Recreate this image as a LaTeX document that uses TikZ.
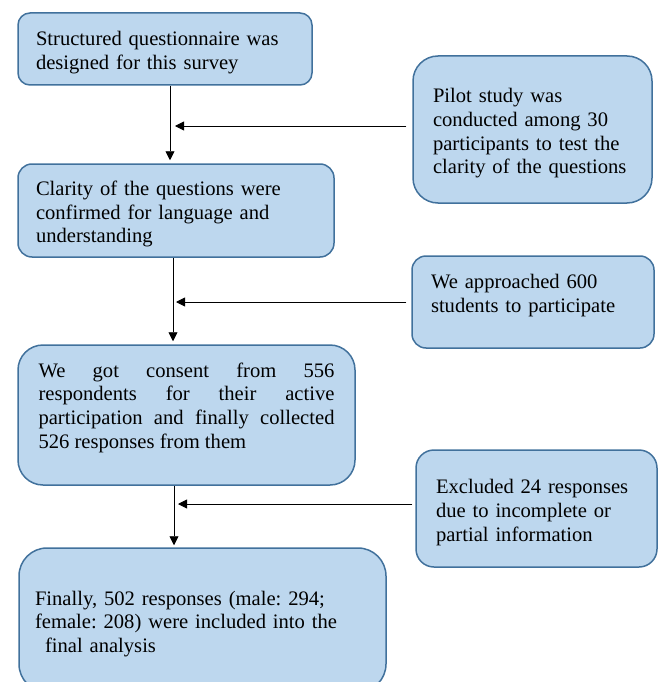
\documentclass[tikz,border=0pt]{standalone}
\usepackage{fontspec}
\setmainfont{Liberation Serif}
\usepackage{tikz}
\usetikzlibrary{positioning, arrows.meta, calc}
\definecolor{boxfill}{RGB}{189,215,238}
\definecolor{boxline}{RGB}{65,113,156}
\tolerance=10000
\hbadness=10000
\frenchspacing

\begin{document}
\begin{tikzpicture}[
  x=1pt, y=-1pt,
  >={Triangle[length=9pt, width=9pt]},
  every node/.style={font=\fontsize{20.6}{23.7}\selectfont},
  stage/.style={draw=boxline, fill=boxfill, line width=1.5pt, align=left, inner sep=0pt, text height=22pt},
  link/.style={->, line width=0.9pt}
]
\useasboundingbox (0,0) rectangle (658,682);
\clip (0,0) rectangle (658,682);

% Main column
\node[stage, rounded corners=12pt, minimum width=294pt, minimum height=72pt, text width=258pt] (design) at (165,49)
  {Structured questionnaire was\\designed for this survey};
\node[stage, rounded corners=14pt, minimum width=316pt, minimum height=93pt, text width=280pt] (clarity) at (176,210.5)
  {Clarity of the questions were\\confirmed for language and\\understanding};
\node[stage, rounded corners=25pt, minimum width=337pt, minimum height=140pt, text width=296pt, align=justify] (consent) at (186.5,415)
  {We got consent from 556\linebreak respondents for their active\linebreak
   participation and finally collected\linebreak 526 responses from them\par\vspace{22pt}\hrule height 0pt};
\node[stage, rounded corners=28pt, minimum width=367pt, minimum height=144pt, text width=335pt] (final) at (202.5,620)
  {Finally, 502 responses (male: 294;\\female: 208) were included into the\\\hspace*{10pt}final analysis};

% Side boxes
\node[stage, rounded corners=25pt, minimum width=239pt, minimum height=147pt, text width=199pt] (pilot) at (532.5,129.5)
  {Pilot study was\\conducted among 30\\participants to test the\\clarity of the questions};
\node[stage, rounded corners=14pt, minimum width=242pt, minimum height=92pt, text width=204pt] (approach) at (533,302)
  {We approached 600\\students to participate\par\vspace{20pt}\hrule height 0pt};
\node[stage, rounded corners=18pt, minimum width=241pt, minimum height=117pt, text width=201pt] (exclude) at (536.5,508.5)
  {Excluded 24 responses\\due to incomplete or\\partial information};

% Downward arrows
\draw[link, shorten >=3pt] ([xshift=5pt]design.south) coordinate (t1) -- (t1 |- clarity.north);
\draw[link, shorten >=3pt] ([xshift=-3pt]clarity.south) coordinate (t2) -- (t2 |- consent.north);
\draw[link, shorten >=2pt] ([xshift=-12.5pt]consent.south) coordinate (t3) -- (t3 |- final.north);

% Side arrows
\draw[link] ([xshift=-6pt, yshift=3.5pt]pilot.west) coordinate (h1) -- ($(h1 -| t1)+(5,0)$);
\draw[link] ([xshift=-5pt]approach.west) coordinate (h2) -- ($(h2 -| t2)+(3,0)$);
\draw[link] ([xshift=-3pt, yshift=4.5pt]exclude.west) coordinate (h3) -- ($(h3 -| t3)+(4,0)$);

\end{tikzpicture}
\end{document}
